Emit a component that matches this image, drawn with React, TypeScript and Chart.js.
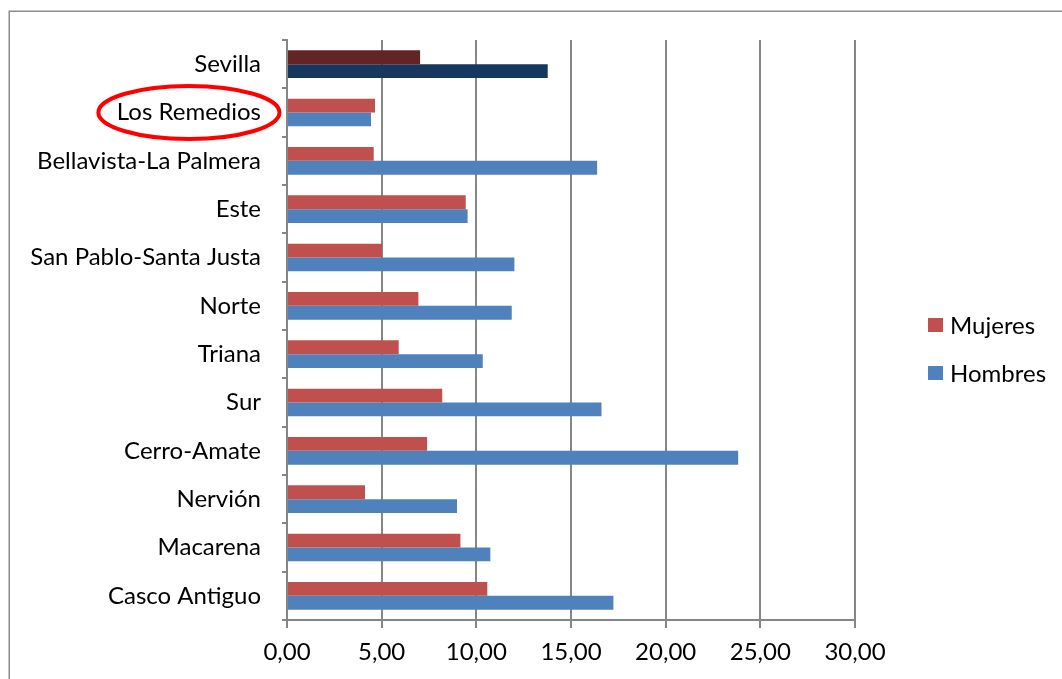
import React, { useEffect, useRef } from "react";
import { Chart, registerables } from "chart.js";

Chart.register(...registerables);

const categories = [
  "Sevilla",
  "Los Remedios",
  "Bellavista-La Palmera",
  "Este",
  "San Pablo-Santa Justa",
  "Norte",
  "Triana",
  "Sur",
  "Cerro-Amate",
  "Nervión",
  "Macarena",
  "Casco Antiguo",
];
const mujeres = [7.03, 4.65, 4.58, 9.44, 5.02, 6.94, 5.9, 8.2, 7.4, 4.12, 9.16, 10.58];
const hombres = [13.77, 4.44, 16.38, 9.54, 12.01, 11.87, 10.34, 16.61, 23.83, 8.98, 10.74, 17.24];
const seriesLabels = ["Mujeres", "Hombres"];
const xTickValues = [0, 5, 10, 15, 20, 25, 30];
const highlightedCategory = "Los Remedios";
const totalCategory = "Sevilla";

const RED = "#C0504D";
const BLUE = "#4F81BD";
const DARK_RED = "#632523";
const DARK_BLUE = "#17375E";
const GRID = "#868686";
const FONT = "Lato";
const FONT_SIZE = 24;

const fmt = (v: number) => v.toFixed(2).replace(".", ",");

export default function App() {
  const ref = useRef<HTMLCanvasElement | null>(null);

  useEffect(() => {
    if (!ref.current) return;

    const frame = {
      id: "frame",
      beforeDraw(chart: any) {
        const ctx = chart.ctx;
        ctx.save();
        ctx.strokeStyle = "#8c8c8c";
        ctx.lineWidth = 1.5;
        ctx.strokeRect(9.25, 11.25, 1300, 1000);
        ctx.restore();
      },
    };

    const overlay = {
      id: "overlay",
      afterDraw(chart: any) {
        const ctx = chart.ctx;
        const area = chart.chartArea;
        ctx.save();
        ctx.font = `${FONT_SIZE}px ${FONT}`;
        // legend
        const colors = [RED, BLUE];
        seriesLabels.forEach((lab, i) => {
          const cy = area.top + 285 + i * 48;
          const bx = area.right + 73;
          ctx.fillStyle = colors[i];
          ctx.fillRect(bx, cy - 7, 15, 14);
          ctx.fillStyle = "#000";
          ctx.textBaseline = "middle";
          ctx.textAlign = "left";
          ctx.fillText(lab, bx + 22, cy + 1);
        });
        // highlight ellipse around label
        const y = chart.scales.y;
        const idx = categories.indexOf(highlightedCategory);
        const cy = y.getPixelForValue(idx);
        const tw = ctx.measureText(highlightedCategory).width;
        const textRight = y.right - 5 - 21;
        const cx = textRight - tw / 2;
        ctx.beginPath();
        ctx.ellipse(cx, cy, tw / 2 + 18.5, 26.5, 0, 0, Math.PI * 2);
        ctx.strokeStyle = "#FF0000";
        ctx.lineWidth = 4;
        ctx.stroke();
        ctx.restore();
      },
    };

    const totalIdx = categories.indexOf(totalCategory);

    const chart = new Chart(ref.current, {
      type: "bar",
      data: {
        labels: categories,
        datasets: [
          {
            label: seriesLabels[0],
            data: mujeres,
            backgroundColor: categories.map((_, i) => (i === totalIdx ? DARK_RED : RED)),
            borderWidth: 0,
            barPercentage: 1,
            categoryPercentage: 0.573,
          },
          {
            label: seriesLabels[1],
            data: hombres,
            backgroundColor: categories.map((_, i) => (i === totalIdx ? DARK_BLUE : BLUE)),
            borderWidth: 0,
            barPercentage: 1,
            categoryPercentage: 0.573,
          },
        ],
      },
      options: {
        indexAxis: "y",
        responsive: false,
        animation: false,
        layout: { padding: { top: 40, left: 0, right: 207, bottom: 0 } },
        plugins: {
          legend: { display: false },
          tooltip: { enabled: false },
        },
        scales: {
          x: {
            type: "linear",
            min: xTickValues[0],
            max: xTickValues[xTickValues.length - 1],
            afterBuildTicks: (scale: any) => {
              scale.ticks = xTickValues.map((v) => ({ value: v }));
            },
            afterFit: (scale: any) => {
              scale.height = 59;
            },
            ticks: {
              color: "#000",
              font: { family: FONT, size: FONT_SIZE },
              padding: 10,
              maxRotation: 0,
              callback: (v: any) => fmt(Number(v)),
            },
            grid: {
              color: GRID,
              lineWidth: 2,
              tickLength: 8,
              drawTicks: true,
            },
            border: { display: true, color: GRID, width: 2 },
          },
          y: {
            type: "category",
            afterFit: (scale: any) => {
              scale.width = 287;
            },
            ticks: {
              color: "#000",
              font: { family: FONT, size: FONT_SIZE },
              padding: 21,
            },
            grid: {
              drawOnChartArea: false,
              drawTicks: true,
              tickLength: 5,
              color: GRID,
              lineWidth: 2,
              offset: true,
            },
            border: { display: true, color: GRID, width: 2 },
          },
        },
      },
      plugins: [frame, overlay],
    } as any);

    return () => chart.destroy();
  }, []);

  return (
    <div style={{ position: "absolute", left: 0, top: 0, width: 1062, height: 679, background: "#fff" }}>
      <canvas ref={ref} width={1062} height={679} />
    </div>
  );
}
